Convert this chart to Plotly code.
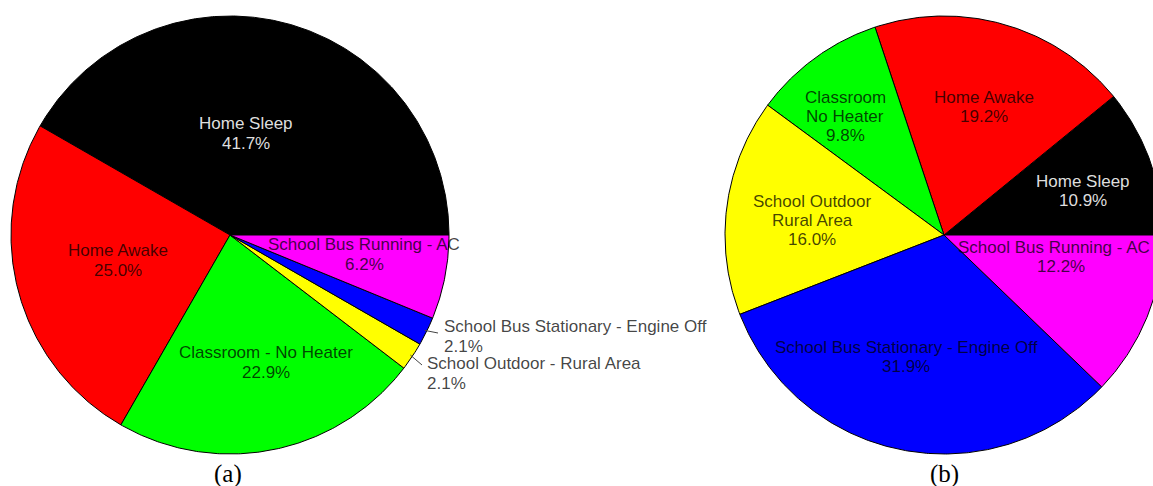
import numpy as np
import plotly.graph_objects as go

# Time-activity shares (percent) for the two exposure scenarios
categories = [
    "Home Sleep",
    "Home Awake",
    "Classroom - No Heater",
    "School Outdoor - Rural Area",
    "School Bus Stationary - Engine Off",
    "School Bus Running - AC",
]
share_a = [41.7, 25.0, 22.9, 2.1, 2.1, 6.2]
share_b = [10.9, 19.2, 9.8, 16.0, 31.9, 12.2]

# Slice label text for each panel
labels_a = [
    ["Home Sleep"],
    ["Home Awake"],
    ["Classroom - No Heater"],
    ["School Outdoor - Rural Area"],
    ["School Bus Stationary - Engine Off"],
    ["School Bus Running - AC"],
]
labels_b = [
    ["Home Sleep"],
    ["Home Awake"],
    ["Classroom", "No Heater"],
    ["School Outdoor", "Rural Area"],
    ["School Bus Stationary - Engine Off"],
    ["School Bus Running - AC"],
]
captions = ["(a)", "(b)"]

# ---- styling / layout ----
W, H = 1153, 486
slice_colors = ["#000000", "#ff0000", "#00ff00", "#ffff00", "#0000ff", "#ff00ff"]
text_on_slice = ["rgba(255,255,255,0.88)"] + ["rgba(0,0,0,0.74)"] * 5
outside_text = "rgba(0,0,0,0.74)"
FONT = "Liberation Sans, Arial, sans-serif"
FS = 17
RADIUS = 219

panels = [
    dict(
        center=(230, 235), values=share_a, labels=labels_a, line_gap=20,
        # label anchor offsets from pie centre (px); the optional third entry
        # nudges the first line horizontally
        offsets=[(16, -112), (-112, 15), (36, 117), (195, 128), (212, 91), (134, 9)],
        first_line_dx=[0, 0, 0, 0, 0, 0],
        outside=[False, False, False, True, True, False],
        leader_end=[None, None, None, (192, 130), (208, 98), None],
        caption_pos=(228, 474),
    ),
    dict(
        center=(944, 235), values=share_b, labels=labels_b, line_gap=19.3,
        offsets=[(139, -54), (40, -138), (-99, -138), (-132, -34), (-38, 112), (117, 12)],
        first_line_dx=[0, 0, 0, 0, 0, -7],
        outside=[False] * 6,
        leader_end=[None] * 6,
        caption_pos=(944, 474),
    ),
]

fig = go.Figure()
annotations = []

for p in panels:
    cx, cy = p["center"]
    vals = np.asarray(p["values"], dtype=float)
    frac = vals / vals.sum()
    # slices run counter-clockwise starting from 3 o'clock
    edges = np.concatenate([[0.0], np.cumsum(frac)]) * 360.0

    for i, name in enumerate(categories):
        a0, a1 = edges[i], edges[i + 1]
        n = max(int(np.ceil((a1 - a0) / 0.5)), 2)
        th = np.radians(np.linspace(a0, a1, n))
        xs = np.concatenate([[cx], cx + RADIUS * np.cos(th), [cx]])
        ys = np.concatenate([[cy], cy - RADIUS * np.sin(th), [cy]])
        fig.add_trace(go.Scatter(
            x=xs, y=ys, mode="lines", fill="toself",
            fillcolor=slice_colors[i],
            line=dict(color="#000000", width=1),
            hoveron="fills", hoverinfo="text",
            text=f"{name}: {vals[i]:.1f}%",
            showlegend=False,
        ))

        # label lines: name line(s) followed by the percentage
        lines = p["labels"][i] + [f"{vals[i]:.1f}%"]
        ox, oy = p["offsets"][i]
        is_out = p["outside"][i]
        for k, line in enumerate(lines):
            dx = p["first_line_dx"][i] if k == 0 else 0
            annotations.append(dict(
                x=cx + ox + dx, y=cy + oy + k * p["line_gap"],
                xref="x", yref="y", text=line, showarrow=False,
                xanchor="left" if is_out else "center", yanchor="middle",
                font=dict(family=FONT, size=FS,
                          color=outside_text if is_out else text_on_slice[i]),
            ))

        # leader line for labels placed outside the pie
        if p["leader_end"][i] is not None:
            mid = np.radians((a0 + a1) / 2)
            ex, ey = p["leader_end"][i]
            fig.add_trace(go.Scatter(
                x=[cx + RADIUS * 0.99 * np.cos(mid), cx + ex],
                y=[cy - RADIUS * 0.99 * np.sin(mid), cy + ey],
                mode="lines", line=dict(color="#444444", width=1),
                hoverinfo="skip", showlegend=False,
            ))

for p, cap in zip(panels, captions):
    annotations.append(dict(
        x=p["caption_pos"][0], y=p["caption_pos"][1], xref="x", yref="y",
        text=cap, showarrow=False, xanchor="center", yanchor="middle",
        font=dict(family="Liberation Serif, Times New Roman, serif", size=25, color="#000000"),
    ))

fig.update_layout(
    width=W, height=H,
    margin=dict(l=0, r=0, t=0, b=0),
    paper_bgcolor="white", plot_bgcolor="white",
    xaxis=dict(range=[0, W], visible=False, fixedrange=True),
    yaxis=dict(range=[H, 0], visible=False, fixedrange=True),
    annotations=annotations,
    showlegend=False,
)

fig.write_html("out.html")
